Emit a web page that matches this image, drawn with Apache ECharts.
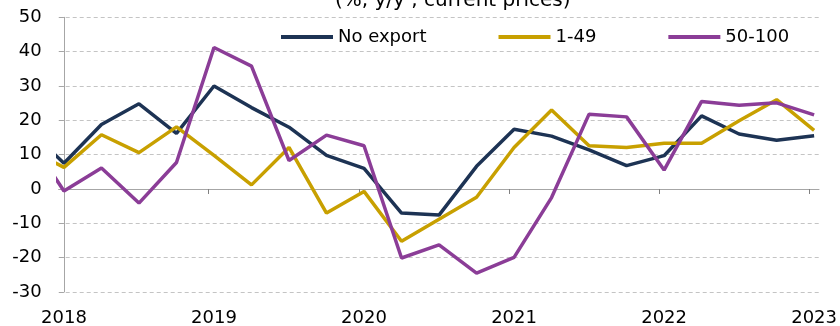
<!DOCTYPE html>
<html>
<head>
<meta charset="utf-8">
<script src="https://cdn.jsdelivr.net/npm/echarts@6/dist/echarts.min.js"></script>
<style>
html,body{margin:0;padding:0;background:#fff;}
#chart{width:840px;height:326px;}
</style>
</head>
<body>
<div id="chart"></div>
<script>
// Quarterly periods (first one lies just before the visible range)
const quarters = ["2017Q4",
  "2018Q1","2018Q2","2018Q3","2018Q4",
  "2019Q1","2019Q2","2019Q3","2019Q4",
  "2020Q1","2020Q2","2020Q3","2020Q4",
  "2021Q1","2021Q2","2021Q3","2021Q4",
  "2022Q1","2022Q2","2022Q3","2022Q4",
  "2023Q1"];
const seriesNames = ["No export", "1-49", "50-100"];
const noExport = [18, 7.5, 18.8, 24.8, 16.2, 30.0, 23.7, 18.0, 9.8, 6.0, -7.0, -7.6, 6.6, 17.4, 15.4, 11.4, 6.8, 9.7, 21.3, 16.0, 14.2, 15.5];
const exp1to49 = [12, 6.3, 15.8, 10.6, 18.1, 9.8, 1.2, 12.1, -7.0, -0.7, -15.2, -8.8, -2.4, 12.1, 23.0, 12.6, 12.1, 13.3, 13.3, 19.9, 26.0, 17.1];
const exp50to100 = [16, -0.6, 6.1, -4.1, 7.7, 41.2, 35.8, 8.3, 15.7, 12.6, -20.1, -16.3, -24.5, -19.9, -2.5, 21.8, 21.0, 5.5, 25.5, 24.4, 25.1, 21.6];
const yearLabels = ["2018", "2019", "2020", "2021", "2022", "2023"];
const titleText = "(%, y/y , current prices)";

const FONT = "DejaVu Sans";
const colors = ["#1d3354", "#c8a000", "#8b3d97"];

// position of each quarter: 2018Q1 = 0
const pos = quarters.map((q, i) => i - 1);
const toPairs = arr => arr.map((v, i) => [pos[i], v]);
const labelPos = yearLabels.map(y => pos[quarters.indexOf(y + "Q1")]);
const tickPos = labelPos.slice(1).map(p => p - 0.14);
const X_MIN = -0.14, X_MAX = 20.13;

const chart = echarts.init(document.getElementById('chart'), null, {renderer: 'canvas'});
chart.setOption({
  animation: false,
  backgroundColor: '#fff',
  textStyle: {fontFamily: FONT},
  graphic: [{
    type: 'text', x: 335, y: 1, silent: true,
    style: {text: titleText, fontFamily: FONT, fontSize: 20, fill: '#000', align: 'left', verticalAlign: 'middle'}
  }],
  legend: {
    left: 276, top: 23,
    itemWidth: 52, itemHeight: 4, itemGap: 72,
    icon: 'rect',
    textStyle: {fontFamily: FONT, fontSize: 18, color: '#000'},
    data: seriesNames
  },
  grid: {left: 58.7, right: 21, top: 17.3, bottom: 34, containLabel: false, outerBoundsMode: 'none'},
  xAxis: [
    {
      type: 'value', position: 'bottom',
      min: X_MIN, max: X_MAX,
      axisLine: {show: false, onZero: false},
      axisTick: {show: false},
      axisLabel: {
        customValues: labelPos,
        formatter: v => yearLabels[labelPos.indexOf(v)] || '',
        margin: 17, fontFamily: FONT, fontSize: 18, color: '#000'
      },
      splitLine: {show: false}
    },
    {
      type: 'value', position: 'top',
      min: X_MIN, max: X_MAX,
      axisLine: {show: true, onZero: true, lineStyle: {color: '#a6a6a6', width: 1}},
      axisTick: {show: true, inside: true, length: 5, lineStyle: {color: '#808080'}, customValues: tickPos},
      axisLabel: {show: false},
      splitLine: {show: false}
    }
  ],
  yAxis: {
    type: 'value',
    min: -30, max: 50, interval: 10,
    axisLine: {show: true, lineStyle: {color: '#a6a6a6', width: 1}},
    axisTick: {show: true, length: 5, lineStyle: {color: '#a6a6a6'}},
    axisLabel: {margin: 17, fontFamily: FONT, fontSize: 18, color: '#000'},
    splitLine: {show: true, lineStyle: {color: '#c4c4c4', type: [4, 3], width: 1}}
  },
  series: [
    {name: seriesNames[0], type: 'line', data: toPairs(noExport), symbol: 'none', clip: true,
     lineStyle: {width: 3.5, color: colors[0]}, itemStyle: {color: colors[0]}},
    {name: seriesNames[1], type: 'line', data: toPairs(exp1to49), symbol: 'none', clip: true,
     lineStyle: {width: 3.5, color: colors[1]}, itemStyle: {color: colors[1]}},
    {name: seriesNames[2], type: 'line', data: toPairs(exp50to100), symbol: 'none', clip: true,
     lineStyle: {width: 3.5, color: colors[2]}, itemStyle: {color: colors[2]}}
  ]
});
</script>
</body>
</html>
